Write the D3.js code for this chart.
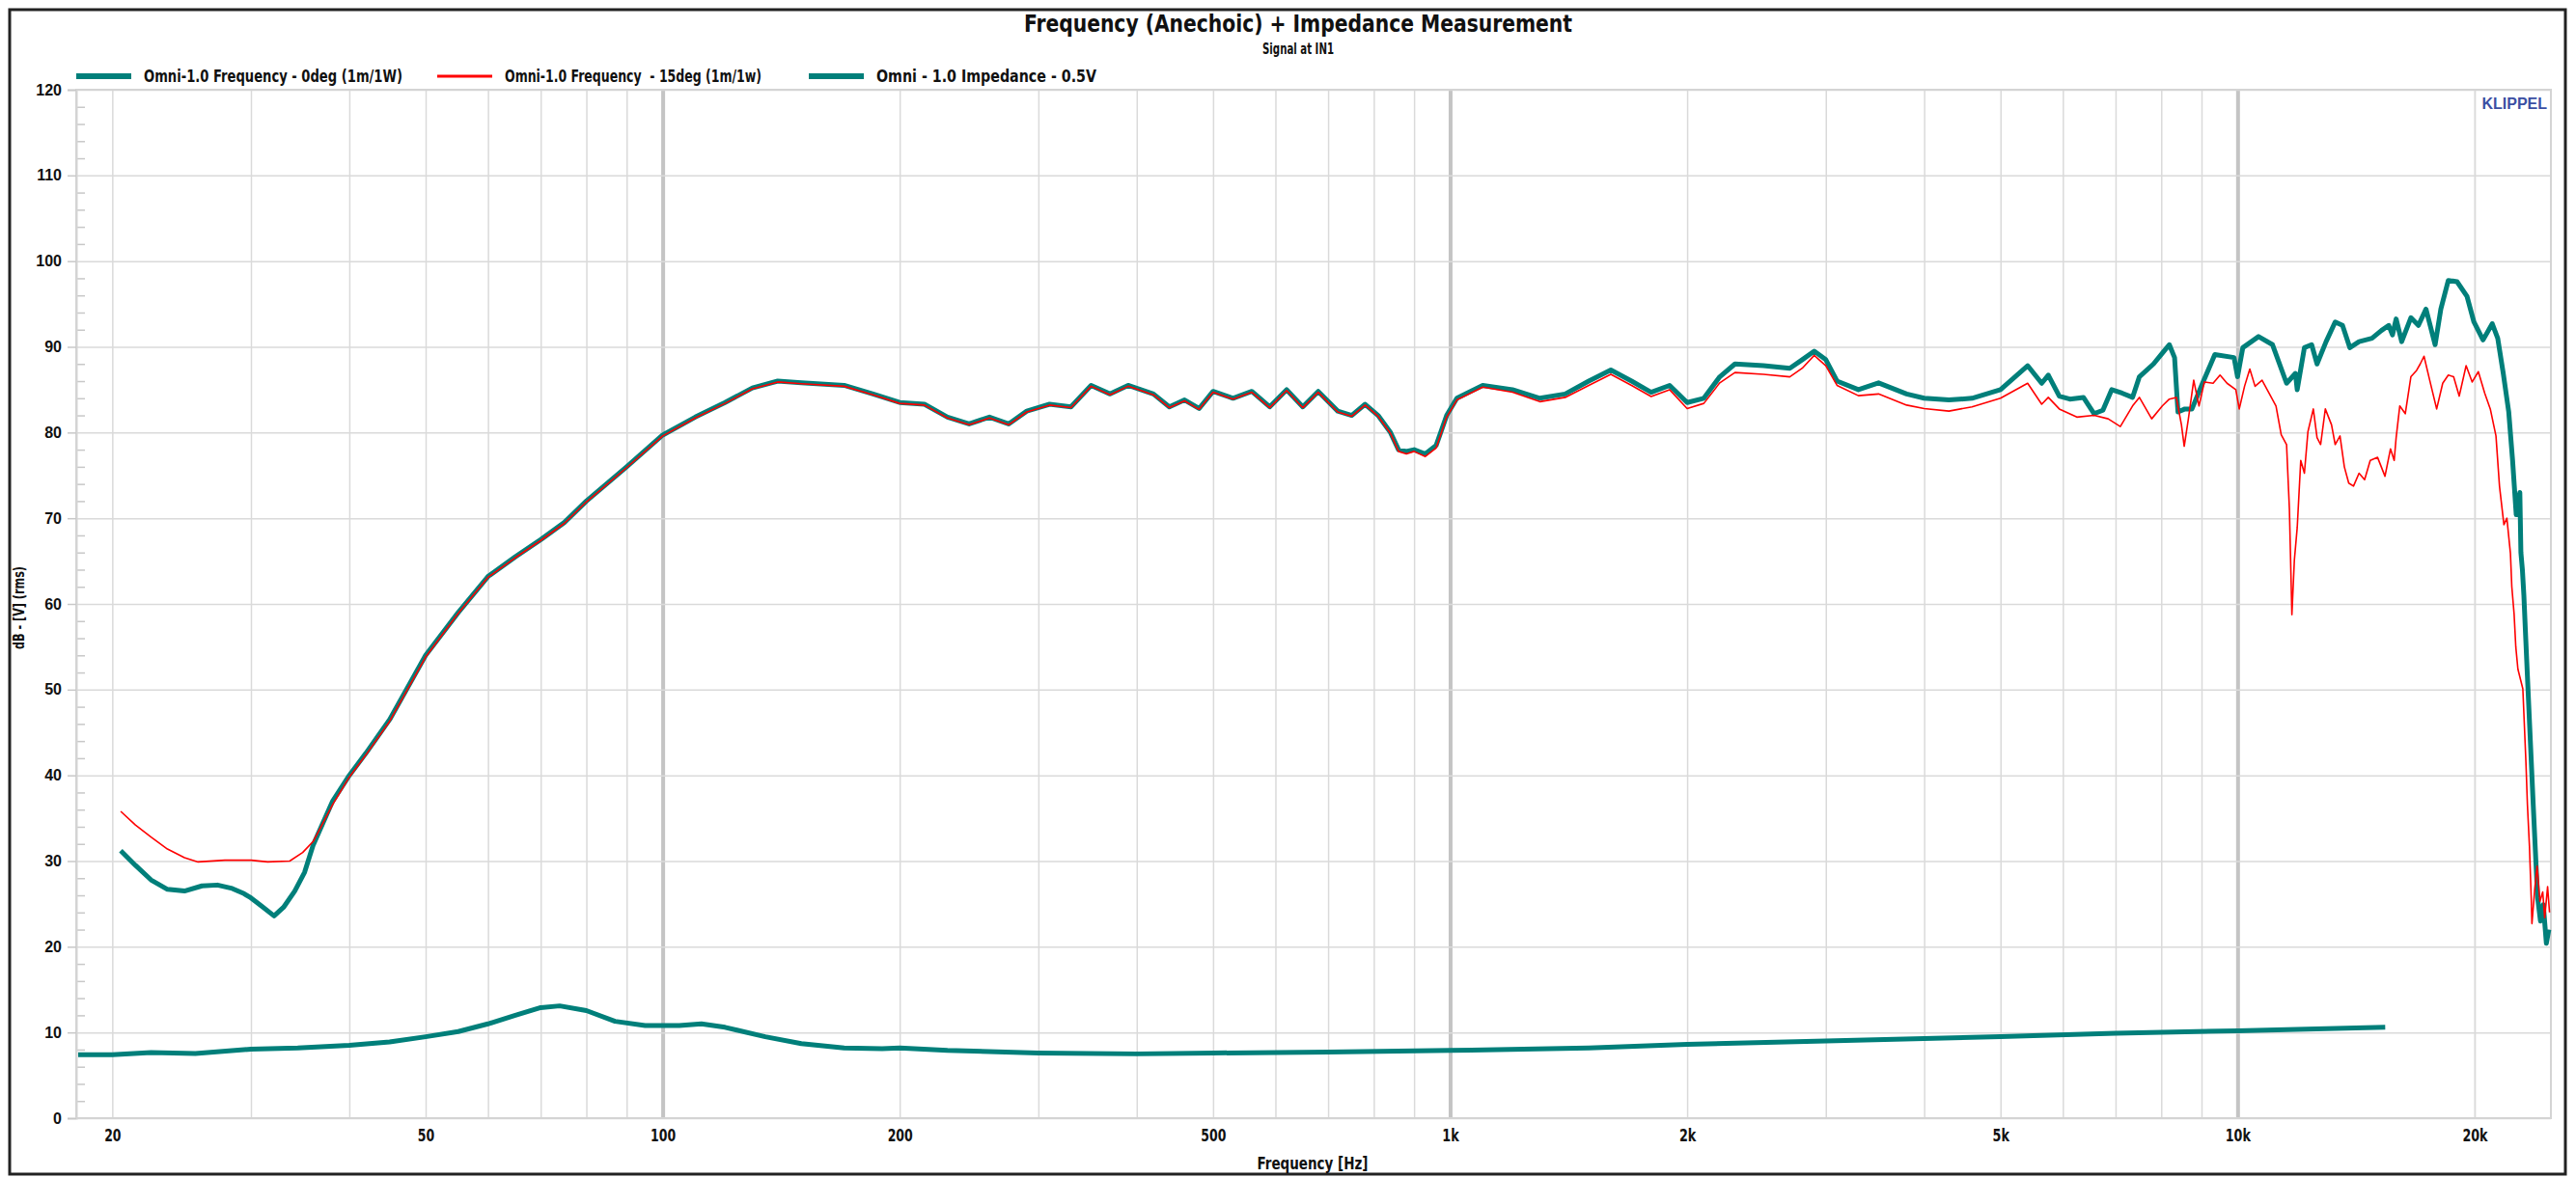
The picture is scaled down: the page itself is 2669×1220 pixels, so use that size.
<!DOCTYPE html>
<html><head><meta charset="utf-8">
<script src="https://cdn.jsdelivr.net/npm/d3@7"></script>
<style>
html,body{margin:0;padding:0;background:#fff;}
svg{display:block;}
.nar{font-family:"Liberation Sans Narrow","Arial Narrow","DejaVu Sans Condensed",sans-serif;font-weight:bold;fill:#111;}
</style></head><body>
<svg id="chart" width="2669" height="1220"></svg>
<script>
// ---------- data ----------
const xTickValues = [20, 50, 100, 200, 500, 1000, 2000, 5000, 10000, 20000];
const xTickLabels = ["20", "50", "100", "200", "500", "1k", "2k", "5k", "10k", "20k"];
const yTickValues = [0, 10, 20, 30, 40, 50, 60, 70, 80, 90, 100, 110, 120];
const seriesNames = ["Omni-1.0 Frequency - 0deg (1m/1W)", "Omni-1.0 Frequency  - 15deg (1m/1w)", "Omni - 1.0 Impedance - 0.5V"];

const resp0deg = [[20.5,31.2],[21.4,29.5],[22.4,27.8],[23.5,26.7],[24.7,26.5],[26,27.1],[27.2,27.2],[28.4,26.8],[29.4,26.2],[30,25.7],[30.9,24.8],[32.1,23.6],[33,24.6],[34.1,26.5],[35.1,28.7],[36,31.9],[38.1,37],[40,40],[42,42.6],[45,46.5],[50,54],[55,59],[60,63.2],[65,65.5],[70,67.5],[75,69.5],[80,72],[90,76],[100,79.7],[110,81.8],[120,83.5],[130,85.2],[140,86],[150,85.8],[170,85.5],[185,84.5],[200,83.5],[215,83.3],[230,81.8],[245,81],[260,81.8],[275,81],[290,82.5],[310,83.3],[330,83],[350,85.5],[370,84.5],[390,85.5],[420,84.5],[440,83],[460,83.8],[480,82.8],[500,84.8],[530,84],[560,84.8],[590,83],[620,85],[650,83],[680,84.8],[720,82.5],[750,82],[780,83.3],[810,82],[840,80],[860,78],[880,77.8],[900,78],[930,77.5],[960,78.5],[990,82],[1020,84],[1100,85.5],[1200,85],[1300,84],[1400,84.5],[1500,86],[1600,87.3],[1700,86],[1800,84.7],[1900,85.5],[2000,83.5],[2100,84],[2200,86.5],[2300,88],[2500,87.8],[2700,87.5],[2800,88.5],[2900,89.5],[3000,88.5],[3100,86],[3300,85],[3500,85.8],[3800,84.5],[4000,84],[4300,83.8],[4600,84],[5000,85],[5413,87.8],[5640,85.75],[5750,86.7],[5938,84.25],[6123,83.9],[6372,84.1],[6574,82.2],[6745,82.6],[6920,85],[7133,84.6],[7356,84.1],[7504,86.5],[7821,88],[8066,89.5],[8191,90.25],[8318,88.75],[8401,82.4],[8574,82.75],[8752,82.75],[9027,85.75],[9357,89.1],[9898,88.75],[10000,86.5],[10155,89.9],[10633,91.2],[11077,90.25],[11541,85.75],[11844,86.9],[11906,85],[12159,89.9],[12419,90.25],[12617,88],[12955,90.6],[13304,92.9],[13592,92.5],[13887,89.9],[14266,90.6],[14816,91],[15227,91.9],[15560,92.5],[15730,91.4],[15900,93.25],[16160,90.6],[16600,93.4],[16970,92.5],[17350,94.4],[17820,90.25],[18120,94.4],[18520,97.75],[19000,97.6],[19560,95.9],[19960,92.9],[20500,90.8],[21060,92.7],[21400,91],[21750,86.9],[22100,82.4],[22350,76.75],[22590,70.4],[22830,73],[22900,66],[23000,64],[23100,61],[23200,57],[23340,51.6],[23540,44.1],[23740,36.6],[23950,29.1],[24050,25.7],[24250,23],[24450,24.9],[24670,20.4],[24850,22]];

const resp15deg = [[20.5,35.8],[21.4,34.2],[22.4,32.8],[23.5,31.4],[24.7,30.4],[25.7,29.9],[27.8,30.1],[30,30.1],[31.5,29.9],[33.6,30],[34.9,31],[36,32.3],[38.1,36.6],[40,39.8],[42,42.4],[45,46.3],[50,53.8],[55,58.9],[60,63.1],[65,65.4],[70,67.4],[75,69.4],[80,71.9],[90,75.9],[100,79.6],[110,81.7],[120,83.4],[130,85.1],[140,85.9],[150,85.7],[170,85.4],[185,84.4],[200,83.4],[215,83.2],[230,81.7],[245,80.9],[260,81.7],[275,80.9],[290,82.4],[310,83.2],[330,82.9],[350,85.4],[370,84.4],[390,85.4],[420,84.4],[440,82.9],[460,83.7],[480,82.7],[500,84.7],[530,83.9],[560,84.7],[590,82.9],[620,84.9],[650,82.9],[680,84.7],[720,82.4],[750,81.9],[780,83.2],[810,81.9],[840,79.9],[860,77.8],[880,77.5],[900,77.8],[930,77.2],[960,78.2],[990,81.8],[1020,83.8],[1100,85.3],[1200,84.7],[1300,83.6],[1400,84.1],[1500,85.5],[1600,86.8],[1700,85.5],[1800,84.2],[1900,85],[2000,82.8],[2100,83.4],[2200,85.8],[2300,87],[2500,86.8],[2700,86.5],[2800,87.5],[2900,89],[3000,87.8],[3100,85.5],[3300,84.3],[3500,84.5],[3800,83.2],[4000,82.8],[4300,82.5],[4600,83],[5000,84],[5413,85.75],[5640,83.3],[5750,84.1],[5938,82.75],[6250,81.8],[6574,82],[6850,81.6],[7098,80.7],[7356,83.1],[7504,84.1],[7780,81.6],[8025,83.1],[8191,83.9],[8360,84.1],[8487,80.9],[8556,78.4],[8661,81.6],[8797,86.1],[8934,83.1],[9075,85.9],[9310,85.75],[9501,86.7],[9697,85.75],[9949,85],[10050,82.75],[10207,85.4],[10365,87.4],[10525,85.4],[10743,86.1],[10963,84.6],[11190,83.1],[11362,79.75],[11541,78.6],[11637,71.1],[11722,58.75],[11807,65.1],[11906,68.9],[12030,76.75],[12159,75.25],[12285,80.1],[12480,82.75],[12617,79.4],[12750,78.6],[12926,82.75],[13163,80.9],[13304,78.6],[13493,79.6],[13665,76],[13842,74.1],[14036,73.75],[14266,75.25],[14500,74.5],[14740,76.75],[15060,77.1],[15390,74.9],[15640,78.1],[15810,76.75],[15900,79.4],[16070,83.1],[16330,82.2],[16600,86.5],[16880,87.25],[17060,88],[17250,88.9],[17540,86.1],[17900,82.75],[18220,85.75],[18520,86.7],[18810,86.5],[19120,84.25],[19510,87.8],[19860,85.9],[20220,87.1],[20600,84.6],[20940,82.75],[21290,79.6],[21510,73.75],[21790,69.25],[21980,70],[22210,65.9],[22300,62],[22450,58.8],[22560,55],[22700,52.4],[23030,50.1],[23140,45.6],[23240,41.5],[23340,36.6],[23480,31.7],[23610,25.3],[23650,22.7],[23850,26.8],[24010,29.4],[24210,25.3],[24410,26.4],[24550,23.4],[24760,27],[24900,24]];

const impedance = [[18.1,7.4],[20,7.4],[22.4,7.65],[25.5,7.55],[30,8.05],[34.4,8.2],[40,8.5],[45,8.9],[50,9.5],[55,10.1],[60,11],[65,12],[70,12.9],[74,13.1],[80,12.55],[87,11.3],[95,10.8],[105,10.8],[112,11],[120,10.6],[135,9.5],[150,8.7],[170,8.2],[190,8.1],[200,8.2],[230,7.9],[300,7.6],[400,7.5],[500,7.6],[700,7.7],[1000,7.9],[1500,8.2],[2000,8.6],[3000,9],[5000,9.5],[7000,9.9],[10000,10.2],[15400,10.6]];

// ---------- layout ----------
const svg = d3.select("#chart");
const L = 79, R = 2643, T = 93, B = 1159;
const TEAL = "#007f7a", RED = "#ff0000", GRID = "#dadada";
const x = d3.scaleLog().domain([18, 25000]).range([L, R]);
const y = d3.scaleLinear().domain([0, 120]).range([B, T]);

function fit(sel, w){ sel.attr("textLength", w).attr("lengthAdjust","spacingAndGlyphs"); return sel; }

svg.append("rect").attr("x",0).attr("y",0).attr("width",2669).attr("height",1220).attr("fill","#fff");
svg.append("rect").attr("x",10).attr("y",10).attr("width",2648).attr("height",1207)
  .attr("fill","none").attr("stroke","#222").attr("stroke-width",3);

// vertical grid
const gridFreqs = [];
for (const dec of [10,100,1000,10000]) for (let k=1;k<10;k++){const f=k*dec; if (f>=20 && f<=20000) gridFreqs.push(f);}
gridFreqs.push(20000);
const gx = svg.append("g").attr("transform",`translate(0,${B})`)
  .call(d3.axisBottom(x).tickValues(gridFreqs).tickSize(-(B-T)).tickFormat(""));
gx.select(".domain").remove();
gx.selectAll(".tick line").attr("stroke",d => (d===100||d===1000||d===10000)?"#c4c4c4":GRID)
  .attr("stroke-width",d => (d===100||d===1000||d===10000)?4:1.5);

// horizontal grid
const gy = svg.append("g").attr("transform",`translate(${L},0)`)
  .call(d3.axisLeft(y).tickValues(yTickValues).tickSize(-(R-L)).tickFormat(""));
gy.select(".domain").remove();
gy.selectAll(".tick line").attr("stroke",GRID).attr("stroke-width",1.5);

// frame
svg.append("rect").attr("x",L).attr("y",T).attr("width",R-L).attr("height",B-T)
  .attr("fill","none").attr("stroke","#d4d4d4").attr("stroke-width",2);

// minor ticks (inside)
const minor = d3.range(2,120,2).filter(v => v%10!==0);
const gm = svg.append("g").attr("transform",`translate(${L},0)`)
  .call(d3.axisRight(y).tickValues(minor).tickSize(9).tickFormat(""));
gm.select(".domain").remove();
gm.selectAll(".tick line").attr("stroke","#c8c8c8").attr("stroke-width",1.5);

// y axis major ticks + labels
const ya = svg.append("g").attr("transform",`translate(${L},0)`)
  .call(d3.axisLeft(y).tickValues(yTickValues).tickSize(9).tickPadding(6).tickFormat(d3.format("d")));
ya.select(".domain").attr("stroke","#d4d4d4").attr("stroke-width",2);
ya.selectAll(".tick line").attr("stroke","#c8c8c8").attr("stroke-width",1.5);
ya.selectAll(".tick text").attr("fill","#111")
  .style("font-family","'Liberation Sans',Arial,sans-serif").style("font-weight","bold").style("font-size","16px");

// x labels
const xa = svg.append("g").attr("transform",`translate(0,${B})`)
  .call(d3.axisBottom(x).tickValues(xTickValues).tickSize(0).tickPadding(12)
    .tickFormat((d,i) => xTickLabels[i]));
xa.select(".domain").remove();
xa.selectAll(".tick text").attr("class","nar").style("font-size","17px")
  .each(function(d,i){ fit(d3.select(this), xTickLabels[i].length * 8.7); });

// curves
const line = d3.line().x(d => x(d[0])).y(d => y(d[1]));
svg.append("path").datum(impedance).attr("d",line).attr("fill","none")
  .attr("stroke",TEAL).attr("stroke-width",5).attr("stroke-linejoin","round");
svg.append("path").datum(resp0deg).attr("d",line).attr("fill","none")
  .attr("stroke",TEAL).attr("stroke-width",5).attr("stroke-linejoin","round");
svg.append("path").datum(resp15deg).attr("d",line).attr("fill","none")
  .attr("stroke",RED).attr("stroke-width",1.6).attr("stroke-linejoin","round");

// titles
fit(svg.append("text").attr("class","nar").attr("x",1345).attr("y",33).attr("text-anchor","middle")
  .style("font-size","25px").text("Frequency (Anechoic) + Impedance Measurement"), 568);
fit(svg.append("text").attr("class","nar").attr("x",1345).attr("y",56).attr("text-anchor","middle")
  .style("font-size","16px").text("Signal at IN1"), 74);
fit(svg.append("text").attr("class","nar").attr("x",1360).attr("y",1212).attr("text-anchor","middle")
  .style("font-size","17px").text("Frequency [Hz]"), 115);
fit(svg.append("text").attr("class","nar").attr("transform","translate(25,630) rotate(-90)")
  .attr("text-anchor","middle").style("font-size","15px").text("dB - [V] (rms)"), 86);
svg.append("text").attr("x",2639).attr("y",113).attr("text-anchor","end")
  .style("font-family","'Liberation Sans',Arial,sans-serif").style("font-weight","bold")
  .style("font-size","16px").attr("fill","#3b4fa3").text("KLIPPEL");

// legend
const legX = [79, 453, 838];
const legColor = [TEAL, RED, TEAL];
const legW = [6, 3, 6];
const legTextW = [268, 266, 228];
seriesNames.forEach((n,i) => {
  svg.append("line").attr("x1",legX[i]).attr("x2",legX[i]+57).attr("y1",79).attr("y2",79)
    .attr("stroke",legColor[i]).attr("stroke-width",legW[i]);
  fit(svg.append("text").attr("class","nar").attr("x",legX[i]+70).attr("y",85)
    .style("font-size","18px").style("white-space","pre").text(n), legTextW[i]);
});
</script>
</body></html>
